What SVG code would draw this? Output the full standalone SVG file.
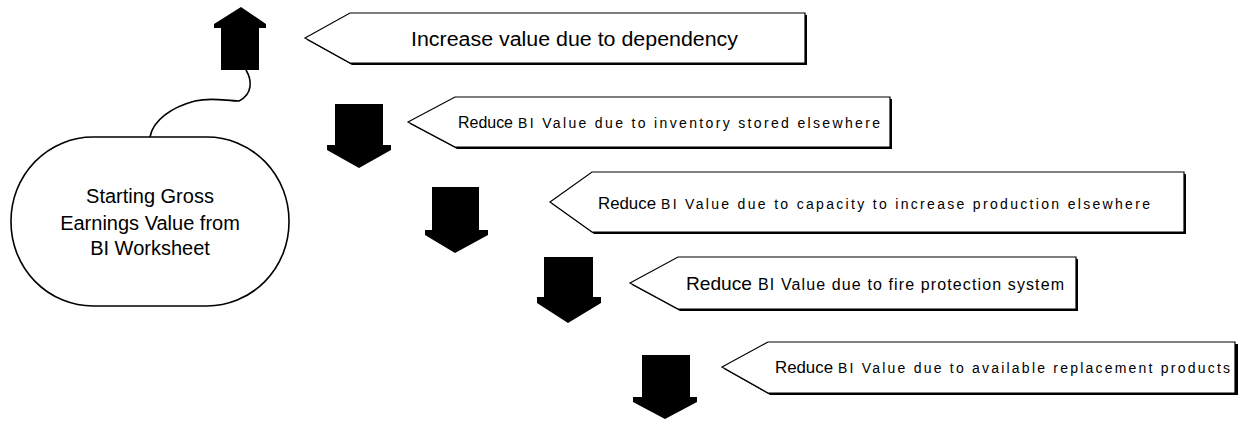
<svg xmlns="http://www.w3.org/2000/svg" width="1238" height="422" viewBox="0 0 1238 422">
<style>
.arrow{fill:#000;stroke:none}
.co{fill:#fff;stroke:#000;stroke-width:1.2}
.sh{fill:#000;stroke:none}
.t{font-family:"Liberation Sans",Arial,sans-serif;fill:#000}
.big{font-size:17px}
.sm{font-size:14px}
.conn{fill:none;stroke:#000;stroke-width:1.6}
</style>
<rect width="1238" height="422" fill="#fff"/>
<g id="connectors">
<path class="conn" d="M246,70 C252,80 253,94 239,101 C226,101 212,97 195,101 C172,107 153,120 150,137"/>
</g>
<g id="start">
<rect x="11" y="137" width="278" height="169" rx="82" ry="84" fill="#fff" stroke="#000" stroke-width="1.6"/>
<text class="t" font-size="20" text-anchor="middle" x="150" y="203">Starting Gross</text>
<text class="t" font-size="20" text-anchor="middle" x="150" y="230">Earnings Value from</text>
<text class="t" font-size="20" text-anchor="middle" x="150" y="255">BI Worksheet</text>
</g>
<g id="up-arrow">
<polygon class="arrow" points="241,7 266,24 266,28 259,28 259,70 221,70 221,28 214,28 214,24"/>
</g>
<g id="callout-1">
<polygon class="sh" points="307,40 352,15 807,15 807,65 352,65"/>
<polygon class="co" points="305,38 350,13 805,13 805,63 350,63"/>
<text class="t" font-size="20" x="411" y="46" textLength="327" lengthAdjust="spacingAndGlyphs">Increase value due to dependency</text>
</g>
<g id="down-arrow-1">
<polygon class="arrow" points="335,104 383,104 383,145 391,145 391,150 359,168 327,150 327,145 335,145"/>
</g>
<g id="callout-2">
<polygon class="sh" points="410,124 457,99 892,99 892,149 457,149"/>
<polygon class="co" points="408,122 455,97 890,97 890,147 455,147"/>
<text class="t big" x="458" y="128" textLength="55" lengthAdjust="spacingAndGlyphs">Reduce</text>
<text class="t sm" x="518" y="128" textLength="362" lengthAdjust="spacing">BI Value due to inventory stored elsewhere</text>
</g>
<g id="down-arrow-2">
<polygon class="arrow" points="432,187 479,187 479,230 488,230 488,235 455,253 425,235 425,230 432,230"/>
</g>
<g id="callout-3">
<polygon class="sh" points="552,204 594,174 1186,174 1186,234 594,234"/>
<polygon class="co" points="550,202 592,172 1184,172 1184,232 592,232"/>
<text class="t big" x="598" y="209" textLength="58" lengthAdjust="spacingAndGlyphs">Reduce</text>
<text class="t sm" x="661" y="209" textLength="489" lengthAdjust="spacing">BI Value due to capacity to increase production elsewhere</text>
</g>
<g id="down-arrow-3">
<polygon class="arrow" points="544,257 593,257 593,297 601,297 601,303 568,323 537,303 537,297 544,297"/>
</g>
<g id="callout-4">
<polygon class="sh" points="632,285 680,259 1078,259 1078,311 680,311"/>
<polygon class="co" points="630,283 678,257 1076,257 1076,309 678,309"/>
<text class="t" font-size="19" x="686" y="290" textLength="66" lengthAdjust="spacingAndGlyphs">Reduce</text>
<text class="t" font-size="16" x="758" y="290" textLength="306" lengthAdjust="spacing">BI Value due to fire protection system</text>
</g>
<g id="down-arrow-4">
<polygon class="arrow" points="642,355 690,355 690,397 697,397 697,402 665,419 633,402 633,397 642,397"/>
</g>
<g id="callout-5">
<polygon class="sh" points="724,369 770,344 1238,344 1238,395 770,395"/>
<polygon class="co" points="722,367 768,342 1235,342 1235,393 768,393"/>
<text class="t big" x="775" y="373" textLength="58" lengthAdjust="spacingAndGlyphs">Reduce</text>
<text class="t sm" x="838" y="373" textLength="392" lengthAdjust="spacing">BI Value due to available replacement products</text>
</g>
</svg>
